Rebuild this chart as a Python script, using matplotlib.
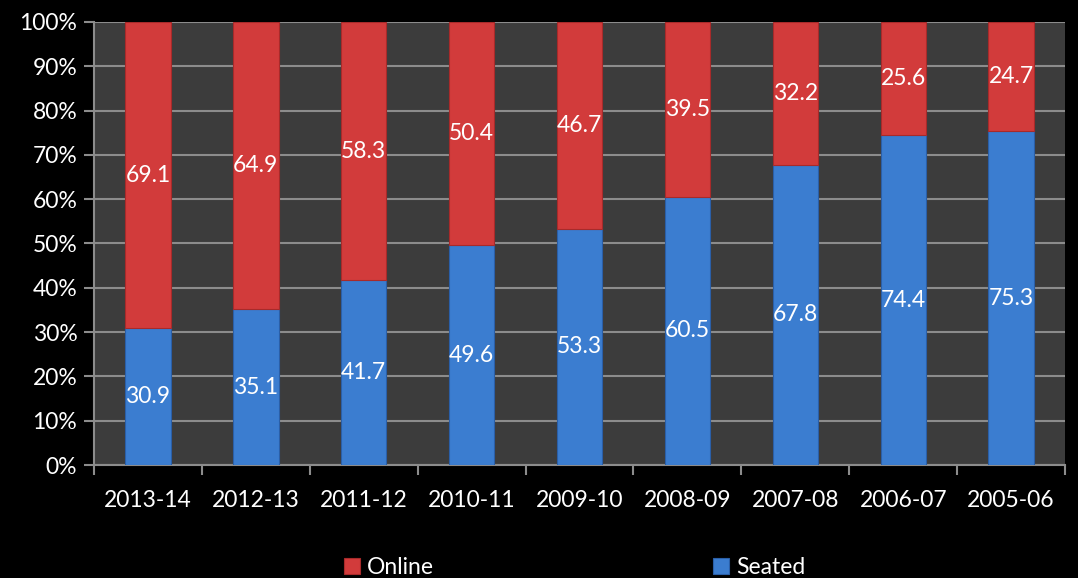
import matplotlib.pyplot as plt
import numpy as np

years = ['2013-14', '2012-13', '2011-12', '2010-11', '2009-10',
         '2008-09', '2007-08', '2006-07', '2005-06']
seated = [30.9, 35.1, 41.7, 49.6, 53.3, 60.5, 67.8, 74.4, 75.3]
online = [69.1, 64.9, 58.3, 50.4, 46.7, 39.5, 32.2, 25.6, 24.7]

plt.rcParams['font.family'] = ['Lato', 'DejaVu Sans']

fig = plt.figure(figsize=(10.78, 5.78), dpi=100, facecolor='black')
ax = fig.add_axes([0.0872, 0.1955, 0.9008, 0.7665])
ax.set_facecolor('#3c3c3c')

x = np.arange(len(years))
w = 0.42
b1 = ax.bar(x, seated, w, color='#3b7dd0', edgecolor='#2a5fa8',
            linewidth=0.8, label='Seated', zorder=3)
b2 = ax.bar(x, online, w, bottom=seated, color='#d23b3b',
            edgecolor='#a82a2a', linewidth=0.8, label='Online', zorder=3)

for i in range(len(years)):
    ax.text(x[i], seated[i] / 2, f'{seated[i]:.1f}', ha='center',
            va='center', color='white', fontsize=16.5, zorder=4)
    ax.text(x[i], seated[i] + online[i] / 2, f'{online[i]:.1f}',
            ha='center', va='center', color='white', fontsize=16.5, zorder=4)

ax.set_xlim(-0.5, len(years) - 0.5)
ax.set_ylim(0, 100)
ax.set_yticks(range(0, 101, 10))
ax.set_yticklabels([f'{v}%' for v in range(0, 101, 10)])
ax.yaxis.grid(True, color='#8c8c8c', linewidth=1.5, zorder=1)
ax.set_xticks(x)
ax.set_xticklabels(years)
ax.set_xticks(np.arange(-0.5, len(years)), minor=True)
ax.tick_params(axis='x', which='major', length=0, pad=18,
               labelsize=16.5, colors='white')
ax.tick_params(axis='x', which='minor', length=7, color='#8c8c8c', width=1.5)
ax.tick_params(axis='y', length=7, color='#8c8c8c', width=1.5,
               labelsize=16.5, colors='white', pad=5)
for s in ['top', 'right']:
    ax.spines[s].set_visible(False)
for s in ['left', 'bottom']:
    ax.spines[s].set_color('#8c8c8c')
    ax.spines[s].set_linewidth(1.5)

h, l = ax.get_legend_handles_labels()
leg = fig.legend(h[::-1], l[::-1], loc='lower center', ncol=2,
                 bbox_to_anchor=(0.533, -0.035), frameon=False,
                 fontsize=16.5, labelcolor='white', columnspacing=12.2,
                 handlelength=0.7, handleheight=0.7, handletextpad=0.3)

fig.savefig('out.png', facecolor='black')
